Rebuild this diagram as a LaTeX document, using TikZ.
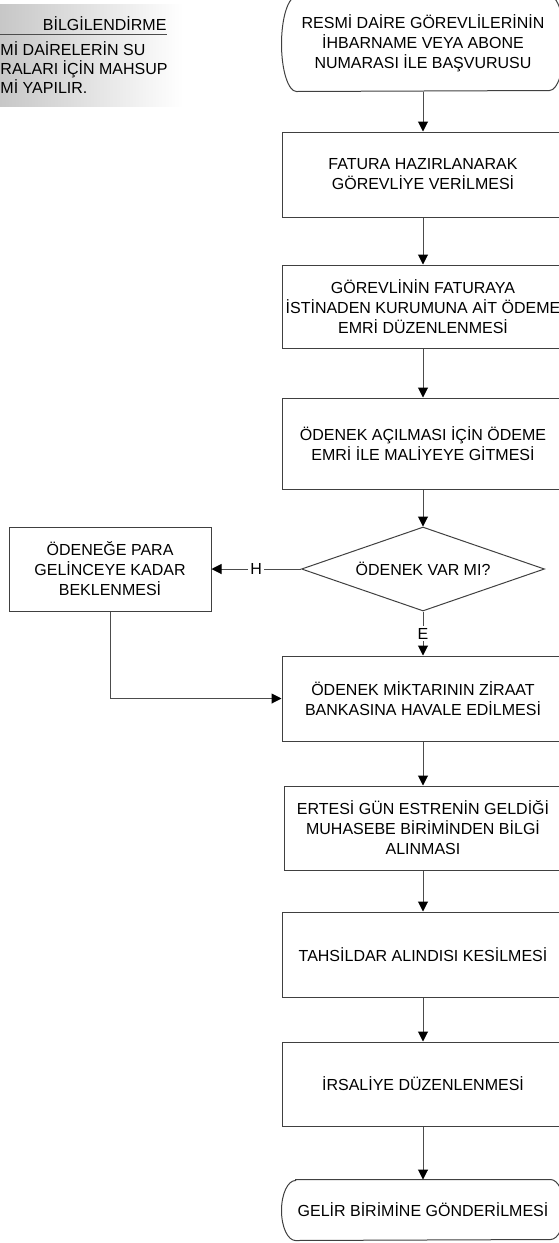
\documentclass[tikz,border=0pt]{standalone}
\usepackage{fontspec}
\setmainfont{Liberation Sans}
\usetikzlibrary{arrows.meta,shapes.geometric}
\begin{document}
\begin{tikzpicture}[x=1pt,y=-1pt,
  line width=1pt,
  every node/.style={font=\fontsize{16}{20}\selectfont, align=center, text=black},
  procbox/.style={draw=black!75, rectangle, minimum width=282pt, inner sep=0pt},
  termbox/.style={rectangle, minimum width=282pt, inner sep=0pt},
  termline/.style={draw=black!75},
  decision/.style={draw=black!75, diamond, aspect=2.9, minimum width=243pt, minimum height=84pt, inner sep=0pt},
  flow/.style={draw=black!70, -{Triangle[length=10pt,width=10pt,color=black]}},
  lbl/.style={fill=white, inner sep=2pt},
  infotext/.style={anchor=base west, inner sep=0pt}
]
\useasboundingbox (0,0) rectangle (559,1243);
\clip (0,0) rectangle (559,1243);

% info panel
\shade[left color=black!22, right color=white, draw=none] (0,4) rectangle (183,106);
\node[anchor=base east, inner sep=0pt] (infotitle) at (167,30) {BİLGİLENDİRME};
\draw[black!70, line width=0.8pt] (0,34.5) -- (infotitle.east |- 0,34.5);
\node[infotext] (info1) at (0,55) {Mİ DAİRELERİN SU};
\node[infotext] (info2) at (0,74) {RALARI İÇİN MAHSUP};
\node[infotext] (info3) at (0,93) {Mİ YAPILIR.};

% start terminal
\node[termbox, minimum height=95pt] (start) at (423,43.5) {RESMİ DAİRE GÖREVLİLERİNİN\\İHBARNAME VEYA ABONE\\NUMARASI İLE BAŞVURUSU};
\draw[termline] ([xshift=15pt]start.north west) -- ([xshift=-15pt]start.north east)
  arc[start angle=90, end angle=-90, x radius=15pt, y radius=47.5pt]
  -- ([xshift=15pt]start.south west)
  arc[start angle=270, end angle=90, x radius=15pt, y radius=47.5pt] -- cycle;

\node[procbox, minimum height=85pt] (b1) at (423,174.5) {FATURA HAZIRLANARAK\\GÖREVLİYE VERİLMESİ};
\node[procbox, minimum height=83pt] (b2) at (423,306.5) {GÖREVLİNİN FATURAYA\\İSTİNADEN KURUMUNA AİT ÖDEME\\EMRİ DÜZENLENMESİ};
\node[procbox, minimum height=91pt] (b3) at (423,443.5) {ÖDENEK AÇILMASI İÇİN ÖDEME\\EMRİ İLE MALİYEYE GİTMESİ};
\node[decision] (dec) at (423,569) {ÖDENEK VAR MI?};
\node[procbox, minimum width=202pt, minimum height=84pt] (wait) at (110,569) {ÖDENEĞE PARA\\GELİNCEYE KADAR\\BEKLENMESİ};
\node[procbox, minimum height=85pt] (b4) at (423,698.5) {ÖDENEK MİKTARININ ZİRAAT\\BANKASINA HAVALE EDİLMESİ};
\node[procbox, minimum width=278pt, minimum height=84pt] (b5) at (423,828) {ERTESİ GÜN ESTRENİN GELDİĞİ\\MUHASEBE BİRİMİNDEN BİLGİ\\ALINMASI};
\node[procbox, minimum height=85pt] (b6) at (423,954.5) {TAHSİLDAR ALINDISI KESİLMESİ};
\node[procbox, minimum height=84pt] (b7) at (423,1084) {İRSALİYE DÜZENLENMESİ};

% end terminal
\node[termbox, minimum height=60pt] (end) at (423,1210) {GELİR BİRİMİNE GÖNDERİLMESİ};
\draw[termline] ([xshift=14pt]end.north west) -- ([xshift=-14pt]end.north east)
  arc[start angle=90, end angle=-90, x radius=14pt, y radius=30pt]
  -- ([xshift=14pt]end.south west)
  arc[start angle=270, end angle=90, x radius=14pt, y radius=30pt] -- cycle;

% connectors
\draw[flow] (start.south) -- (b1.north);
\draw[flow] (b1.south) -- (b2.north);
\draw[flow] (b2.south) -- (b3.north);
\draw[flow] (b3.south) -- (dec.north);
\draw[flow] (dec.west) -- node[lbl] {H} (wait.east);
\draw[flow] (dec.south) -- node[lbl] {E} (b4.north);
\draw[flow] (wait.south) |- (b4.west);
\draw[flow] (b4.south) -- (b5.north);
\draw[flow] (b5.south) -- (b6.north);
\draw[flow] (b6.south) -- (b7.north);
\draw[flow] (b7.south) -- (end.north);
\end{tikzpicture}
\end{document}
